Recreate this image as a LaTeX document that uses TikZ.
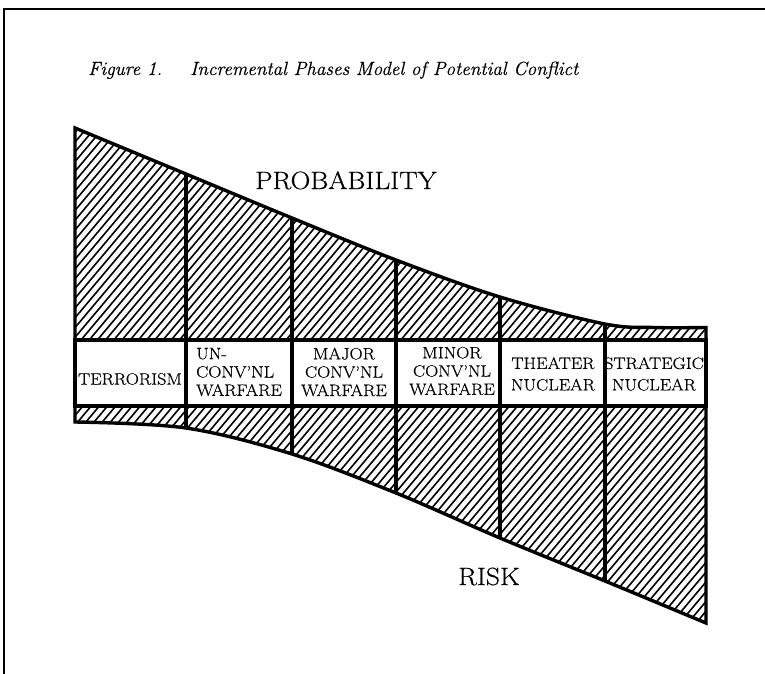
\documentclass[tikz,border=0pt]{standalone}
\usepackage{fontspec}
\setmainfont{Latin Modern Roman}[FakeStretch=1.1, FakeBold=0.5]
\newfontfamily\captfont{Latin Modern Roman}[FakeBold=0.5]
\begin{document}
\begin{tikzpicture}[x=1pt,y=-1pt,
  outline/.style={line width=3.4pt, line join=miter},
  hatchline/.style={line width=1.6pt},
  framel/.style={line width=1.6pt},
  lab/.style={font=\fontsize{16.5}{18.3}\selectfont, align=center, inner sep=0pt},
  labtwo/.style={font=\fontsize{16.5}{21.5}\selectfont, align=center, inner sep=0pt},
  big/.style={font=\fontsize{25}{28}\selectfont, inner sep=0pt, anchor=base},
  capt/.style={font=\captfont\itshape\fontsize{19.1}{22}\selectfont, inner sep=0pt, anchor=base west}]
\useasboundingbox (0,0) rectangle (765,674);
% frame
\coordinate (f0) at (4,9);
\coordinate (f1) at (765,9);
\coordinate (f2) at (4,674);
\draw[framel] (f1) -- (f0) -- (f2);
% key points
\coordinate (t0) at (75,128);
\coordinate (t1) at (186,174);
\coordinate (t2) at (292,218);
\coordinate (t3) at (396,260);
\coordinate (t4) at (500,297);
\coordinate (t5) at (605,324);
\coordinate (tf) at (655,327.5);
\coordinate (t6) at (706,327.5);
\coordinate (b0) at (75,422);
\coordinate (b1) at (186,428);
\coordinate (b2) at (292,454);
\coordinate (b3) at (396,493);
\coordinate (b4) at (500,538);
\coordinate (b5) at (605,581);
\coordinate (b6) at (706,623);
\coordinate (u0) at (75,340);
\coordinate (u6) at (706,340);
\coordinate (l0) at (75,406);
\coordinate (l6) at (706,406);
\def\uppershape{(u0) -- plot[smooth,tension=0.55] coordinates {(t0) (t1) (t2) (t3) (t4) (t5) (tf) (t6)} -- (u6) -- cycle}
\def\lowershape{(l0) -- plot[smooth,tension=0.55] coordinates {(b0) (b1) (b2) (b3) (b4) (b5) (b6)} -- (l6) -- cycle}
% hatching
\begin{scope}
  \clip \uppershape \lowershape;
  \foreach \i in {-75,...,90} \draw[hatchline] (\i*8.2,700) -- ++(588,-700);
\end{scope}
% outlines
\draw[outline] \uppershape;
\draw[outline] \lowershape;
\draw[outline, fill=white] (u0) rectangle (l6);
\foreach \k in {1,...,5} \draw[outline] (t\k) -- (b\k);
% labels
\node[lab] (terror) at (130,379) {TERRORISM};
\node[lab, align=left, anchor=west] (unconv) at (196,372) {UN-\\CONV'NL\\WARFARE};
\node[lab] (major) at (344,372) {MAJOR\\CONV'NL\\WARFARE};
\node[lab] (minor) at (452,371) {MINOR\\CONV'NL\\WARFARE};
\node[labtwo] (theater) at (553,374) {THEATER\\NUCLEAR};
\node[labtwo] (strat) at (654,374) {STRATEGIC\\NUCLEAR};
\node[big] (prob) at (346,189) {PROBABILITY};
\node[big] (risk) at (489,585) {RISK};
\node[capt] (figlab) at (88,75) {Figure 1.};
\node[capt] (figtitle) at (190,75) {Incremental Phases Model of Potential Conflict};
\end{tikzpicture}
\end{document}
